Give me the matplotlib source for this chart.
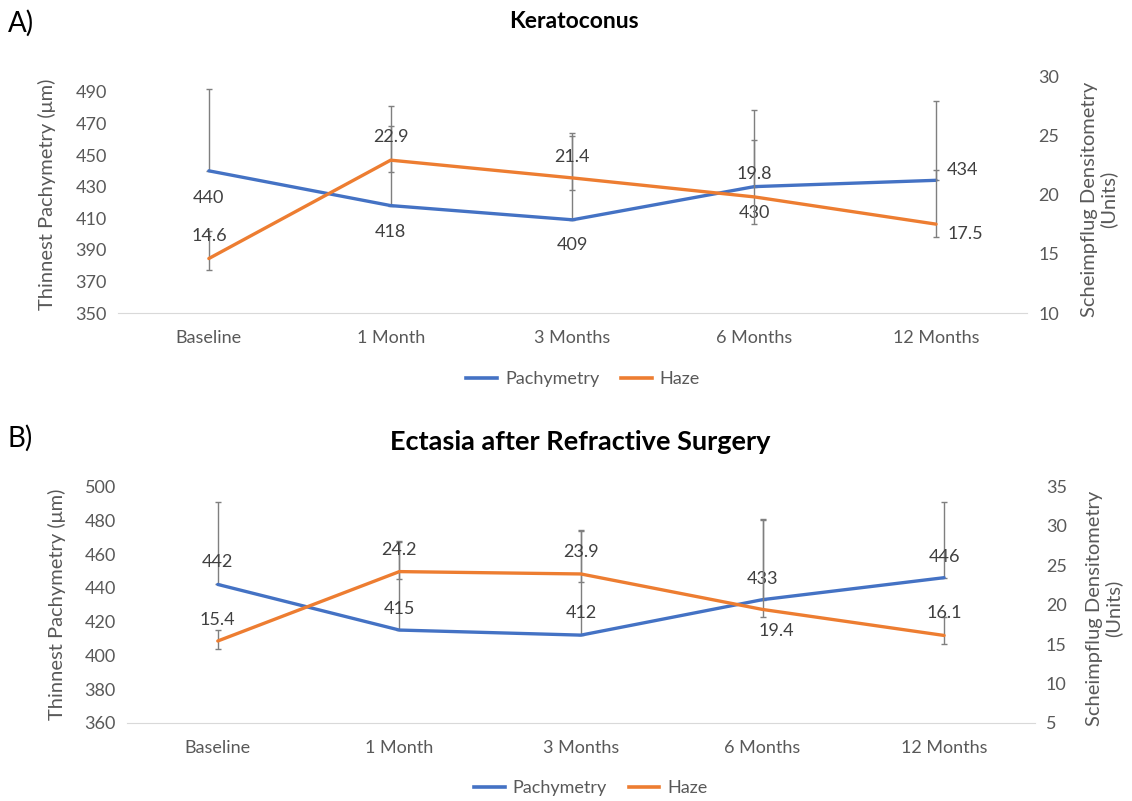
import matplotlib
matplotlib.use("Agg")
import matplotlib.pyplot as plt
from matplotlib.lines import Line2D

plt.rcParams["font.family"] = ["Lato", "DejaVu Sans"]

months = ["Baseline", "1 Month", "3 Months", "6 Months", "12 Months"]

# A) Keratoconus
kc_pachy = [440, 418, 409, 430, 434]
kc_pachy_up = [52, 63, 55, 48.5, 50]
kc_haze = [14.6, 22.9, 21.4, 19.8, 17.5]
kc_haze_up = [2.3, 2.9, 3.5, 4.8, 4.6]
kc_haze_dn = [0.95, 1.0, 1.0, 2.3, 1.1]

# B) Ectasia after refractive surgery
ec_pachy = [442, 415, 412, 433, 446]
ec_pachy_up = [48.6, 52.5, 62, 47.5, 44.6]
ec_haze = [15.4, 24.2, 23.9, 19.4, 16.1]
ec_haze_up = [1.45, 3.7, 5.5, 11.4, 2.4]
ec_haze_dn = [1.05, 0.9, 1.0, 0.95, 1.1]

BLUE = "#4472C4"
ORANGE = "#ED7D31"
GREY = "#595959"
ERR = "#7f7f7f"

W, H = 1132, 801
fig = plt.figure(figsize=(W / 100, H / 100), dpi=100)


def px(v):
    # pixels -> points at 100 dpi
    return v * 0.72


def panel(rect, pachy, p_up, haze, h_up, h_dn, lylim, lticks, rylim, rticks,
          p_off, h_off):
    ax = fig.add_axes(rect)
    ax2 = ax.twinx()
    x = list(range(len(months)))

    ax.errorbar(x, pachy, yerr=[[0] * len(x), p_up], fmt="none", ecolor=ERR,
                elinewidth=1, capsize=2.2, capthick=1, zorder=2)
    ax2.errorbar(x, haze, yerr=[h_dn, h_up], fmt="none", ecolor=ERR,
                 elinewidth=1, capsize=2.2, capthick=1, zorder=2)
    ax.plot(x, pachy, color=BLUE, lw=2.4, zorder=3, solid_capstyle="round")
    ax2.plot(x, haze, color=ORANGE, lw=2.4, zorder=3, solid_capstyle="round")

    for i, v in enumerate(pachy):
        dx, dy, ha = p_off[i]
        ax.annotate(f"{v}", (i, v), xytext=(px(dx), px(dy)), textcoords="offset points",
                    ha=ha, va="center", fontsize=13, color="#404040", zorder=5)
    for i, v in enumerate(haze):
        dx, dy, ha = h_off[i]
        ax2.annotate(f"{v}", (i, v), xytext=(px(dx), px(dy)), textcoords="offset points",
                     ha=ha, va="center", fontsize=13, color="#404040", zorder=5)

    ax.set_xlim(-0.5, len(months) - 0.5)
    ax.set_ylim(*lylim)
    ax.set_yticks(lticks)
    ax2.set_ylim(*rylim)
    ax2.set_yticks(rticks)
    ax.set_xticks(x)
    ax.set_xticklabels(months)

    for a in (ax, ax2):
        for s in a.spines.values():
            s.set_visible(False)
        a.tick_params(length=0, labelsize=13, colors=GREY)
    ax.spines["bottom"].set_visible(True)
    ax.spines["bottom"].set_color("#d9d9d9")
    ax.tick_params(axis="x", pad=12)
    ax.tick_params(axis="y", pad=8)
    ax2.tick_params(axis="y", pad=8)
    return ax


ax_a = panel([0.1042, 0.6092, 0.803, 0.2959], kc_pachy, kc_pachy_up,
             kc_haze, kc_haze_up, kc_haze_dn, (350, 500), range(350, 491, 20),
             (10, 30), range(10, 31, 5),
             [(0, -27, "center"), (0, -26, "center"), (0, -25, "center"),
              (0, -26, "center"), (11, 10, "left")],
             [(0, 23, "center"), (0, 23, "center"), (0, 21, "center"),
              (0, 23, "center"), (11, -10, "left")])

ax_b = panel([0.1122, 0.0974, 0.802, 0.2953], ec_pachy, ec_pachy_up,
             ec_haze, ec_haze_up, ec_haze_dn, (360, 500), range(360, 501, 20),
             (5, 35), range(5, 36, 5),
             [(0, 22, "center"), (0, 21, "center"), (0, 22, "center"),
              (0, 21, "center"), (0, 21, "center")],
             [(0, 21, "center"), (0, 22, "center"), (0, 22, "center"),
              (14, -22, "center"), (0, 22, "center")])

# axis titles, placed in pixel positions of the reference
for lx, ly, rx, ry in ((47, 194, 1099, 199), (57, 604, 1104, 608)):
    fig.text(lx / W, 1 - ly / H, "Thinnest Pachymetry (μm)", rotation=90,
             ha="center", va="center", fontsize=14.5, color=GREY)
    fig.text(rx / W, 1 - ry / H, "Scheimpflug Densitometry\n(Units)", rotation=90,
             ha="center", va="center", fontsize=14.5, color=GREY, linespacing=1.05,
             multialignment="center")

fig.text(574 / W, 1 - 21 / H, "Keratoconus", ha="center", va="center", fontsize=16.5,
         fontweight="bold", color="black")
fig.text(580 / W, 1 - 442 / H, "Ectasia after Refractive Surgery", ha="center",
         va="center", fontsize=19.5, fontweight="bold", color="black")
fig.text(8 / W, 1 - 23 / H, "A)", ha="left", va="center", fontsize=20, color="black")
fig.text(8 / W, 1 - 438 / H, "B)", ha="left", va="center", fontsize=20, color="black")

handles = [Line2D([], [], color=BLUE, lw=2.6), Line2D([], [], color=ORANGE, lw=2.6)]
for xpos, ypos in ((0.515, 1 - 379 / H), (0.522, 1 - 788 / H)):
    fig.legend(handles, ["Pachymetry", "Haze"], loc="center",
               bbox_to_anchor=(xpos, ypos), ncol=2, frameon=False, fontsize=13,
               handlelength=1.7, columnspacing=1.2, handletextpad=0.45,
               labelcolor=GREY)

fig.savefig("out.png", dpi=100)
